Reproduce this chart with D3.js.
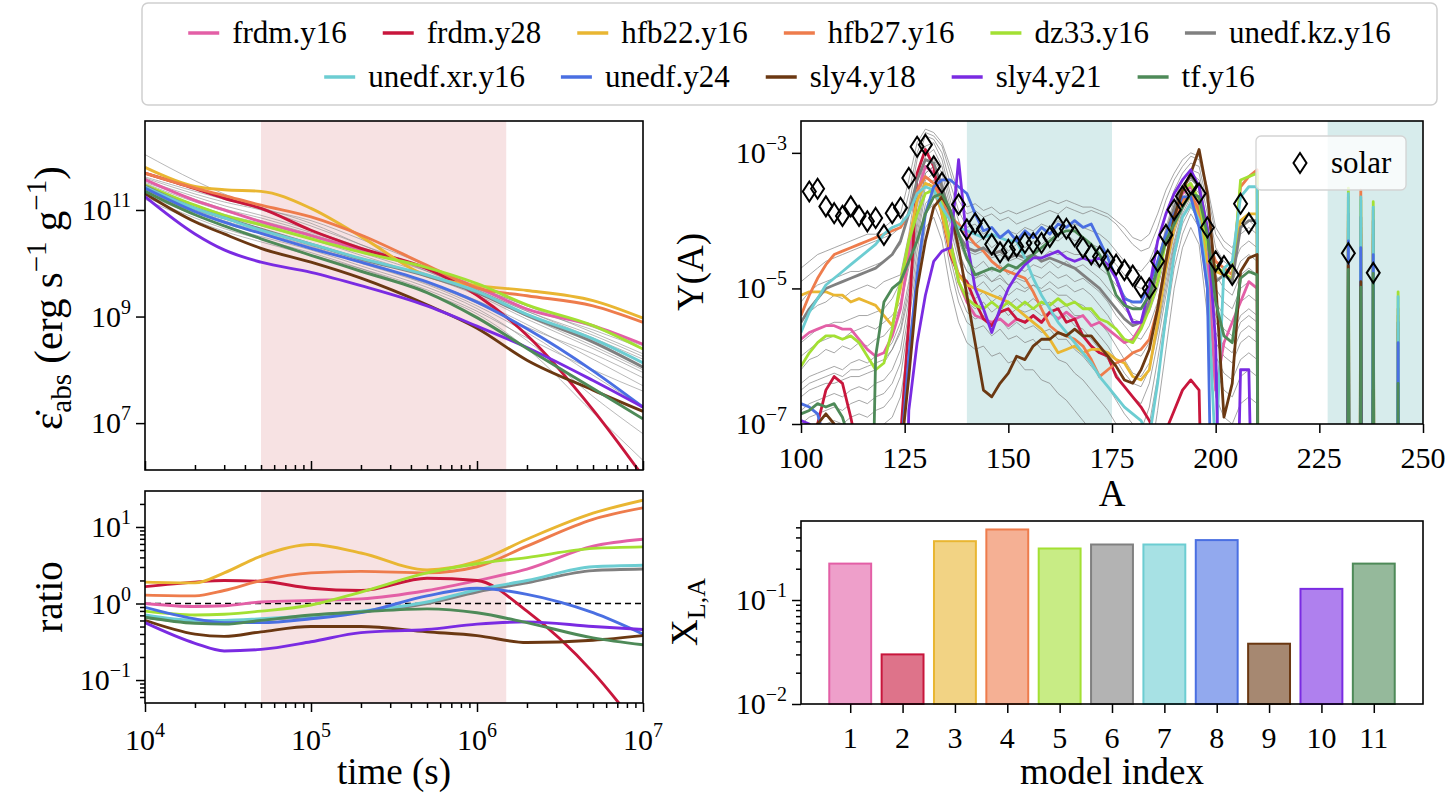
<!DOCTYPE html>
<html>
<head>
<meta charset="utf-8">
<script src="https://d3js.org/d3.v7.min.js"></script>
<style>
body { margin: 0; background: #fff; }
svg text { font-family: "Liberation Serif", "DejaVu Serif", serif; fill: #000; }
</style>
</head>
<body>
<div id="fig"></div>
<script>
// ---- data (exp arrays hold log10 of the plotted value) ----
var modelNames = ["frdm.y16", "frdm.y28", "hfb22.y16", "hfb27.y16", "dz33.y16", "unedf.kz.y16",
    "unedf.xr.y16", "unedf.y24", "sly4.y18", "sly4.y21", "tf.y16"];
var modelColors = ["#e35fa6", "#c8163c", "#e9b632", "#ee7c4c", "#a3e033", "#808080",
    "#6ccdd2", "#4a6fe2", "#6b3812", "#7a2be2", "#4e8a58"];

var timeGrid = [1e4, 2e4, 3e4, 5e4, 1e5, 2e5, 5e5, 1e6, 2e6, 5e6, 1e7];
var timeBand = [5e4, 1.5e6];

var heatingExp = [
    [11.57, 11.18, 11.00, 10.78, 10.52, 10.25, 9.90, 9.55, 9.14, 8.83, 8.48],
    [11.69, 11.40, 11.22, 11.03, 10.62, 10.28, 9.90, 9.40, 8.65, 7.25, 6.00],
    [11.80, 11.44, 11.38, 11.35, 11.03, 10.50, 9.76, 9.58, 9.49, 9.30, 8.97],
    [11.69, 11.41, 11.27, 11.09, 10.87, 10.53, 9.96, 9.54, 9.39, 9.20, 8.89],
    [11.47, 11.09, 10.90, 10.72, 10.46, 10.21, 9.92, 9.62, 9.22, 8.83, 8.39],
    [11.45, 11.03, 10.85, 10.64, 10.36, 10.08, 9.76, 9.45, 9.02, 8.52, 8.05],
    [11.43, 11.03, 10.85, 10.62, 10.36, 10.09, 9.78, 9.47, 9.04, 8.58, 8.13],
    [11.41, 10.97, 10.77, 10.56, 10.28, 10.02, 9.65, 9.27, 8.77, 7.98, 7.30],
    [11.31, 10.78, 10.55, 10.28, 10.02, 9.72, 9.22, 8.78, 8.18, 7.62, 7.22],
    [11.25, 10.55, 10.25, 10.02, 9.83, 9.58, 9.20, 8.82, 8.42, 7.80, 7.30],
    [11.35, 10.91, 10.70, 10.46, 10.15, 9.85, 9.45, 8.98, 8.40, 7.65, 7.08]
];
var heatingGrayExp = [
    [12.04, 11.55, 11.30, 11.05, 10.75, 10.35, 9.85, 9.45, 9.00, 8.45, 8.00],
    [11.60, 11.30, 11.15, 11.00, 10.70, 10.35, 9.90, 9.55, 9.20, 8.80, 8.45],
    [11.50, 11.15, 10.98, 10.80, 10.55, 10.25, 9.85, 9.50, 9.10, 8.60, 8.20],
    [11.45, 11.05, 10.88, 10.70, 10.45, 10.15, 9.75, 9.40, 8.95, 8.40, 7.95],
    [11.40, 11.00, 10.80, 10.60, 10.35, 10.05, 9.65, 9.30, 8.85, 8.20, 7.70],
    [11.35, 10.95, 10.75, 10.55, 10.30, 10.00, 9.60, 9.20, 8.70, 7.90, 7.30],
    [11.30, 10.90, 10.70, 10.50, 10.25, 9.95, 9.55, 9.15, 8.55, 7.50, 6.80],
    [11.20, 10.80, 10.60, 10.40, 10.15, 9.90, 9.50, 9.10, 8.60, 8.00, 7.60],
    [11.55, 11.25, 11.08, 10.90, 10.62, 10.30, 9.90, 9.55, 9.20, 8.70, 8.30],
    [11.25, 10.85, 10.65, 10.45, 10.20, 9.90, 9.45, 9.05, 8.40, 7.20, 6.30],
    [11.48, 11.10, 10.92, 10.75, 10.50, 10.20, 9.80, 9.45, 9.05, 8.55, 8.05],
    [11.62, 11.35, 11.20, 11.02, 10.80, 10.45, 9.95, 9.50, 9.10, 8.65, 8.25],
    [11.38, 10.98, 10.78, 10.58, 10.32, 10.02, 9.62, 9.25, 8.80, 8.30, 7.85],
    [11.52, 11.20, 11.02, 10.85, 10.58, 10.28, 9.88, 9.52, 9.15, 8.75, 8.40]
];
var ratioExp = [
    [0.00, -0.04, -0.03, 0.02, 0.04, 0.06, 0.17, 0.30, 0.45, 0.75, 0.84],
    [0.22, 0.28, 0.30, 0.29, 0.20, 0.17, 0.33, 0.30, -0.10, -0.90, -1.70],
    [0.28, 0.27, 0.40, 0.62, 0.77, 0.66, 0.44, 0.55, 0.84, 1.18, 1.35],
    [0.11, 0.10, 0.17, 0.30, 0.40, 0.42, 0.40, 0.48, 0.75, 1.10, 1.25],
    [-0.10, -0.15, -0.14, -0.10, -0.02, 0.15, 0.40, 0.52, 0.60, 0.72, 0.74],
    [-0.18, -0.24, -0.24, -0.21, -0.17, -0.11, 0.00, 0.15, 0.27, 0.43, 0.45],
    [-0.15, -0.22, -0.22, -0.20, -0.16, -0.10, 0.02, 0.18, 0.30, 0.48, 0.50],
    [-0.05, -0.20, -0.25, -0.25, -0.20, -0.12, 0.10, 0.20, 0.12, -0.12, -0.40],
    [-0.22, -0.40, -0.43, -0.37, -0.30, -0.30, -0.37, -0.42, -0.51, -0.48, -0.42],
    [-0.25, -0.52, -0.62, -0.60, -0.50, -0.38, -0.34, -0.27, -0.24, -0.30, -0.34],
    [-0.18, -0.26, -0.27, -0.22, -0.15, -0.11, -0.07, -0.12, -0.25, -0.45, -0.54]
];

// Y(A) at A = 100, 102, ..., 210 (-12 = far below the plot)
var massGrid = d3.range(100, 212, 2);
var massCutoff = 211;
var massBands = [[140, 175], [227, 250]];
var yieldExp = [
    [-5.75, -5.65, -5.6, -5.55, -5.55, -5.6, -5.6, -5.75, -5.9, -6.0, -5.95, -5.7, -5.3, -4.5, -3.6, -3.2, -3.3, -3.7, -4.3, -4.9,
     -5.2, -5.4, -5.45, -5.5, -5.45, -5.55, -5.45, -5.5, -5.4, -5.5, -5.35, -5.45, -5.35, -5.45, -5.4, -5.55, -5.5, -5.6, -5.7, -5.8,
     -5.75, -5.55, -5.2, -4.75, -4.3, -3.9, -3.6, -3.5, -3.75, -4.6, -6.5, -5.8, -5.5, -5.2, -4.9, -5.0],
    [-7.3, -7.6, -7.0, -6.5, -6.3, -6.4, -6.9, -7.5, -12, -12, -12, -12, -7.2, -5.5, -3.3, -2.95, -3.2, -3.9, -4.5, -4.8,
     -4.9, -5.2, -5.45, -5.55, -5.35, -5.3, -5.45, -5.5, -5.4, -5.5, -5.35, -5.3, -5.5, -5.45, -5.7, -5.85, -5.95, -6.0, -6.3, -6.45,
     -6.6, -6.75, -6.95, -7.2, -7.1, -6.8, -6.5, -6.35, -6.5, -12, -12, -12, -12, -12, -12, -12],
    [-5.1, -5.05, -5.05, -5.05, -5.1, -5.1, -5.2, -5.15, -5.2, -5.25, -5.4, -5.55, -5.0, -4.3, -3.7, -3.45, -3.5, -3.9, -4.45, -4.8,
     -4.95, -5.0, -5.05, -5.1, -5.15, -5.2, -5.3, -5.4, -5.5, -5.6, -5.75, -5.95, -5.9, -5.85, -5.95, -5.9, -5.9, -5.95, -6.05, -6.1,
     -6.3, -6.35, -6.2, -5.5, -4.7, -4.1, -3.75, -3.65, -3.95, -4.6, -4.75, -4.8, -4.85, -4.0, -3.9, -3.9],
    [-5.4, -5.1, -4.85, -4.65, -4.5, -4.45, -4.4, -4.35, -4.3, -4.25, -4.2, -4.15, -4.1, -3.9, -3.55, -3.35, -3.45, -3.7, -3.95, -4.05,
     -4.2, -4.35, -4.45, -4.6, -4.7, -4.75, -4.8, -4.85, -5.05, -5.3, -5.55, -5.65, -5.7, -5.75, -5.85, -6.05, -6.3, -6.2, -6.1, -6.05,
     -5.95, -5.9, -5.75, -5.3, -4.6, -4.0, -3.7, -3.6, -3.85, -4.3, -4.6, -4.7, -4.8, -3.5, -3.35, -3.25],
    [-6.15, -5.95, -5.8, -5.7, -5.7, -5.75, -5.7, -5.8, -6.0, -6.2, -6.1, -5.6, -4.9, -4.3, -3.9, -3.6, -3.55, -3.75, -4.3, -4.9,
     -5.15, -5.25, -5.3, -5.2, -5.3, -5.2, -5.3, -5.2, -5.3, -5.2, -5.25, -5.15, -5.25, -5.2, -5.3, -5.3, -5.45, -5.5, -5.6, -5.75,
     -5.8, -5.6, -5.3, -4.9, -4.3, -3.85, -3.55, -3.45, -3.7, -4.4, -4.7, -4.75, -4.9, -3.4, -3.35, -3.3],
    [-5.5, -5.3, -5.15, -5.0, -4.95, -4.9, -4.85, -4.8, -4.75, -4.7, -4.6, -4.5, -4.3, -3.9, -3.4, -3.1, -3.15, -3.5, -3.9, -4.2,
     -4.4, -4.45, -4.4, -4.5, -4.45, -4.55, -4.5, -4.55, -4.5, -4.6, -4.55, -4.6, -4.65, -4.7, -4.8, -4.9, -5.0, -5.15, -5.3, -5.45,
     -5.55, -5.5, -5.2, -4.7, -4.2, -3.8, -3.5, -3.35, -3.5, -4.2, -4.9, -4.8, -4.9, -4.1, -4.0, -4.0],
    [-5.65, -5.35, -5.15, -4.95, -4.85, -4.75, -4.65, -4.55, -4.45, -4.35, -4.2, -4.1, -4.05, -3.9, -3.6, -3.5, -3.55, -3.8, -4.0, -4.1,
     -4.15, -4.2, -4.25, -4.2, -4.25, -4.3, -4.3, -4.55, -4.85, -5.1, -5.3, -5.5, -5.65, -5.8, -5.95, -6.1, -6.3, -6.45, -6.6, -6.75,
     -6.85, -6.95, -7.2, -6.4, -5.4, -4.5, -3.95, -3.75, -4.0, -4.9, -7.5, -4.7, -4.6, -3.65, -3.5, -3.5],
    [-6.7, -6.75, -6.85, -7.3, -12, -12, -12, -12, -12, -12, -12, -12, -7.5, -6.0, -4.8, -3.9, -3.5, -3.4, -3.4, -3.5,
     -3.6, -3.9, -4.15, -4.1, -4.25, -4.15, -4.3, -4.15, -4.25, -4.1, -4.2, -4.05, -4.1, -4.0, -4.1, -4.05, -4.3, -4.55, -4.85, -5.15,
     -5.2, -5.2, -4.95, -4.6, -4.2, -3.9, -3.65, -3.65, -4.1, -5.0, -12, -12, -12, -12, -12, -12],
    [-7.3, -7.4, -7.0, -6.85, -7.0, -7.5, -12, -12, -12, -12, -12, -12, -7.5, -6.3, -5.0, -4.3, -3.8, -3.65, -3.85, -4.4,
     -5.1, -5.8, -6.5, -6.6, -6.4, -6.25, -6.0, -6.05, -5.85, -5.75, -5.75, -5.65, -5.7, -5.6, -5.7, -5.7, -5.85, -6.0, -6.15, -6.35,
     -6.4, -6.2, -5.9, -5.3, -4.6, -3.95, -3.55, -3.3, -2.95, -3.6, -4.9, -6.9, -6.4, -4.75, -4.55, -4.5],
    [-6.95, -7.0, -7.4, -12, -12, -12, -12, -12, -12, -12, -12, -12, -12, -6.8, -5.8, -5.1, -4.6, -4.45, -4.4, -3.1,
     -4.3, -5.0, -5.3, -5.65, -5.3, -5.0, -4.8, -4.65, -4.55, -4.55, -4.5, -4.45, -4.55, -4.6, -4.55, -4.6, -4.55, -4.65, -4.85, -5.2,
     -5.5, -5.5, -5.0, -4.3, -3.9, -3.6, -3.4, -3.25, -3.5, -4.1, -5.8, -12, -12, -6.2, -6.2, -12],
    [-6.85, -6.8, -6.7, -6.75, -6.7, -6.9, -7.3, -12, -12, -6.0, -5.2, -5.0, -4.9, -4.6, -4.3, -3.9, -3.65, -3.6, -3.85, -4.2,
     -4.55, -4.8, -4.75, -4.7, -4.75, -4.65, -4.7, -4.6, -4.5, -4.4, -4.3, -4.2, -4.15, -4.15, -4.25, -4.35, -4.5, -4.75, -5.1, -5.25,
     -5.3, -5.3, -5.1, -4.7, -4.3, -4.05, -3.8, -3.6, -3.65, -4.2, -5.2, -5.7, -5.8, -4.85, -4.75, -4.8]
];
var yieldGrayExp = [
    [-4.9, -4.8, -4.7, -4.6, -4.55, -4.5, -4.45, -4.4, -4.35, -4.3, -4.25, -4.2, -4.1, -3.6, -3.0, -2.7, -2.75, -2.9, -3.3, -3.7,
     -3.9, -3.85, -3.95, -3.9, -4.0, -3.95, -4.05, -4.0, -3.95, -3.9, -3.85, -3.9, -3.8, -3.85, -3.9, -3.85, -3.9, -3.95, -4.05, -4.2,
     -4.35, -4.45, -4.4, -4.1, -3.7, -3.4, -3.2, -3.05, -3.1, -3.6, -4.2, -4.4, -4.5, -4.2, -4.1, -4.2],
    [-5.5, -5.35, -5.25, -5.2, -5.1, -5.15, -5.05, -5.0, -4.95, -5.0, -4.9, -4.85, -4.8, -4.2, -3.4, -2.9, -2.85, -3.1, -3.6, -4.0,
     -4.3, -4.35, -4.25, -4.4, -4.3, -4.45, -4.35, -4.4, -4.3, -4.35, -4.25, -4.3, -4.2, -4.3, -4.25, -4.35, -4.4, -4.5, -4.65, -4.8,
     -4.95, -5.0, -4.9, -4.6, -4.1, -3.7, -3.4, -3.25, -3.3, -3.9, -4.6, -4.8, -4.9, -4.6, -4.5, -4.6],
    [-6.0, -5.9, -5.8, -5.75, -5.7, -5.75, -5.65, -5.6, -5.55, -5.6, -5.5, -5.4, -5.2, -4.6, -3.8, -3.2, -3.1, -3.3, -3.8, -4.3,
     -4.6, -4.7, -4.6, -4.75, -4.65, -4.8, -4.7, -4.75, -4.65, -4.7, -4.6, -4.7, -4.6, -4.7, -4.65, -4.75, -4.85, -5.0, -5.15, -5.3,
     -5.45, -5.5, -5.35, -5.0, -4.5, -4.0, -3.6, -3.4, -3.5, -4.2, -5.0, -5.2, -5.3, -5.0, -4.9, -5.0],
    [-6.4, -6.3, -6.25, -6.2, -6.15, -6.2, -6.1, -6.05, -6.1, -6.0, -5.95, -5.8, -5.5, -4.9, -4.1, -3.4, -3.3, -3.55, -4.1, -4.6,
     -4.9, -5.0, -4.9, -5.05, -4.95, -5.1, -5.0, -5.05, -4.95, -5.0, -4.9, -5.0, -4.95, -5.05, -5.0, -5.1, -5.25, -5.4, -5.6, -5.8,
     -5.95, -6.0, -5.8, -5.4, -4.8, -4.2, -3.8, -3.55, -3.7, -4.5, -5.4, -5.6, -5.7, -5.4, -5.3, -5.4],
    [-6.8, -6.7, -6.65, -6.6, -6.55, -6.6, -6.5, -6.45, -6.5, -6.4, -6.35, -6.2, -5.9, -5.2, -4.3, -3.6, -3.5, -3.8, -4.4, -4.9,
     -5.2, -5.3, -5.2, -5.35, -5.25, -5.4, -5.3, -5.35, -5.3, -5.4, -5.35, -5.45, -5.4, -5.55, -5.6, -5.75, -5.9, -6.05, -6.25, -6.45,
     -6.6, -6.7, -6.4, -5.8, -5.1, -4.4, -3.95, -3.7, -3.9, -4.8, -5.8, -6.0, -6.1, -5.8, -5.7, -5.8],
    [-7.2, -7.1, -7.05, -7.0, -6.95, -7.0, -6.9, -6.85, -6.9, -6.8, -6.75, -6.6, -6.3, -5.5, -4.6, -3.9, -3.75, -4.05, -4.7, -5.2,
     -5.5, -5.6, -5.55, -5.7, -5.6, -5.75, -5.7, -5.8, -5.75, -5.9, -5.9, -6.05, -6.1, -6.25, -6.35, -6.5, -6.65, -6.8, -7.0, -7.2,
     -7.3, -7.4, -7.0, -6.3, -5.5, -4.7, -4.2, -3.9, -4.1, -5.1, -6.2, -6.5, -6.6, -6.3, -6.2, -6.3],
    [-6.6, -6.5, -6.45, -6.4, -6.4, -6.35, -6.3, -6.3, -6.25, -6.2, -6.1, -5.9, -5.6, -5.0, -4.0, -3.3, -3.2, -3.45, -4.0, -4.5,
     -4.75, -4.85, -4.8, -4.9, -4.85, -4.95, -4.9, -5.0, -4.95, -5.05, -5.0, -5.1, -5.1, -5.2, -5.25, -5.35, -5.5, -5.65, -5.85, -6.05,
     -6.25, -6.3, -6.1, -5.6, -4.9, -4.3, -3.85, -3.6, -3.75, -4.6, -5.5, -5.7, -5.8, -5.5, -5.4, -5.5],
    [-5.8, -5.7, -5.6, -5.55, -5.5, -5.5, -5.45, -5.4, -5.4, -5.35, -5.3, -5.15, -4.9, -4.4, -3.6, -3.05, -2.95, -3.2, -3.7, -4.15,
     -4.45, -4.5, -4.45, -4.55, -4.5, -4.6, -4.55, -4.6, -4.5, -4.55, -4.45, -4.5, -4.45, -4.5, -4.5, -4.6, -4.7, -4.8, -4.95, -5.1,
     -5.25, -5.3, -5.15, -4.8, -4.3, -3.85, -3.5, -3.3, -3.4, -4.05, -4.8, -5.0, -5.1, -4.8, -4.7, -4.8],
    [-5.2, -5.05, -4.95, -4.9, -4.85, -4.8, -4.75, -4.75, -4.7, -4.65, -4.6, -4.5, -4.35, -3.8, -3.1, -2.75, -2.8, -3.0, -3.45, -3.85,
     -4.1, -4.05, -4.2, -4.1, -4.25, -4.15, -4.2, -4.1, -4.15, -4.05, -4.1, -4.0, -4.1, -4.05, -4.1, -4.15, -4.2, -4.3, -4.45, -4.6,
     -4.7, -4.75, -4.6, -4.3, -3.9, -3.55, -3.3, -3.15, -3.2, -3.75, -4.4, -4.6, -4.7, -4.4, -4.3, -4.4],
    [-7.6, -7.5, -7.4, -7.35, -7.3, -7.35, -7.25, -7.2, -7.2, -7.1, -7.0, -6.9, -6.6, -5.8, -4.9, -4.1, -3.95, -4.3, -5.0, -5.5,
     -5.8, -5.9, -5.85, -6.0, -5.95, -6.1, -6.05, -6.2, -6.2, -6.35, -6.4, -6.55, -6.65, -6.8, -6.95, -7.1, -7.3, -7.5, -7.7, -7.9,
     -8.0, -8.0, -7.6, -6.8, -5.9, -5.0, -4.4, -4.1, -4.35, -5.4, -6.6, -6.9, -7.0, -6.7, -6.6, -6.7],
    [-6.2, -6.05, -6.0, -5.9, -5.95, -5.85, -5.9, -5.8, -5.85, -5.75, -5.7, -5.55, -5.25, -4.7, -3.9, -3.3, -3.2, -3.4, -3.95, -4.45,
     -4.75, -4.85, -4.75, -4.9, -4.8, -4.95, -4.85, -4.9, -4.8, -4.85, -4.75, -4.85, -4.8, -4.9, -4.85, -4.95, -5.05, -5.2, -5.4, -5.55,
     -5.7, -5.75, -5.55, -5.2, -4.65, -4.1, -3.7, -3.45, -3.6, -4.35, -5.2, -5.4, -5.5, -5.2, -5.1, -5.2],
    [-7.0, -6.9, -6.85, -6.8, -6.75, -6.8, -6.7, -6.65, -6.7, -6.6, -6.55, -6.4, -6.1, -5.35, -4.45, -3.75, -3.6, -3.9, -4.55, -5.05,
     -5.35, -5.45, -5.4, -5.55, -5.45, -5.6, -5.5, -5.6, -5.55, -5.65, -5.6, -5.75, -5.75, -5.9, -6.0, -6.15, -6.3, -6.45, -6.65, -6.85,
     -7.0, -7.1, -6.75, -6.05, -5.3, -4.55, -4.05, -3.8, -4.0, -4.95, -6.0, -6.25, -6.35, -6.05, -5.95, -6.05],
    [-4.7, -4.6, -4.5, -4.45, -4.4, -4.35, -4.3, -4.25, -4.2, -4.2, -4.1, -4.0, -3.9, -3.4, -2.85, -2.65, -2.7, -2.85, -3.2, -3.6,
     -3.8, -3.75, -3.85, -3.8, -3.9, -3.85, -3.9, -3.85, -3.8, -3.75, -3.7, -3.75, -3.7, -3.75, -3.8, -3.8, -3.85, -3.9, -4.0, -4.1,
     -4.25, -4.3, -4.2, -3.9, -3.55, -3.3, -3.1, -3.0, -3.05, -3.5, -4.1, -4.3, -4.4, -4.1, -4.0, -4.1],
    [-6.5, -6.4, -6.35, -6.3, -6.25, -6.3, -6.2, -6.2, -6.15, -6.1, -6.05, -5.9, -5.65, -5.1, -4.2, -3.5, -3.4, -3.65, -4.25, -4.75,
     -5.05, -5.15, -5.05, -5.2, -5.1, -5.25, -5.15, -5.25, -5.15, -5.25, -5.2, -5.3, -5.25, -5.4, -5.4, -5.55, -5.7, -5.85, -6.05, -6.25,
     -6.4, -6.45, -6.2, -5.65, -5.0, -4.35, -3.9, -3.65, -3.8, -4.7, -5.65, -5.85, -5.95, -5.65, -5.55, -5.65]
];
var spikeMass = [232, 235, 238, 244];
var spikeExp = [
    [-4.1, -4.2, -4.3, -5.6],
    [-12, -12, -12, -12],
    [-4.0, -4.1, -4.2, -5.4],
    [-3.65, -3.55, -3.85, -5.3],
    [-3.52, -3.7, -3.72, -5.05],
    [-3.9, -3.95, -4.0, -5.5],
    [-3.6, -3.65, -3.8, -5.12],
    [-4.3, -4.4, -4.5, -5.8],
    [-4.66, -4.9, -6.5, -12],
    [-6.3, -6.6, -12, -12],
    [-4.72, -4.98, -4.78, -6.4]
];
var solarMass = [102, 104, 106, 108, 110, 112, 114, 116, 118, 120, 122, 124, 126, 128, 130, 132, 134,
    138, 140, 142, 144, 146, 148, 150, 152, 154, 156, 158, 160, 162, 164, 166, 168, 170, 172, 174, 176,
    178, 180, 182, 184, 186, 188, 190, 192, 194, 196, 198, 200, 202, 204, 206, 208, 232, 238];
var solarExp = [-3.57, -3.53, -3.79, -3.89, -3.93, -3.79, -3.93, -4.01, -3.96, -4.21, -3.89, -3.81, -3.37, -2.91, -2.88, -3.2, -3.44,
    -3.76, -4.13, -4.04, -4.12, -4.35, -4.47, -4.43, -4.38, -4.33, -4.33, -4.33, -4.24, -4.08, -4.12, -4.23, -4.4, -4.5, -4.53, -4.58, -4.65,
    -4.73, -4.81, -4.98, -5.0, -4.6, -4.21, -3.84, -3.64, -3.46, -3.6, -4.1, -4.6, -4.67, -4.8, -3.75, -4.04, -4.48, -4.77];

var modelIndex = [1, 2, 3, 4, 5, 6, 7, 8, 9, 10, 11];
var lanthanideFraction = [0.224, 0.030, 0.368, 0.477, 0.313, 0.342, 0.342, 0.377, 0.038, 0.128, 0.224];

// ---- figure ----
var svg = d3.select("#fig").append("svg")
    .attr("width", 1450)
    .attr("height", 799)
    .attr("font-family", "Liberation Serif, DejaVu Serif, serif");

var pow = function (e) { return Math.pow(10, e); };
var TICK = 30, SUP = 20, LABEL = 37;

function clipGroup(id, x0, x1, y0, y1) {
    svg.append("clipPath").attr("id", id)
        .append("rect").attr("x", x0).attr("y", y0).attr("width", x1 - x0).attr("height", y1 - y0);
    return svg.append("g").attr("clip-path", "url(#" + id + ")");
}

function frame(x0, x1, y0, y1) {
    svg.append("rect").attr("x", x0).attr("y", y0).attr("width", x1 - x0).attr("height", y1 - y0)
        .attr("fill", "none").attr("stroke", "#000").attr("stroke-width", 1.6);
}

function ticks(axis, tx, ty) {
    var g = svg.append("g").attr("transform", "translate(" + tx + "," + ty + ")").call(axis);
    g.select(".domain").remove();
    g.selectAll("line").attr("stroke", "#000").attr("stroke-width", 1.5);
    g.selectAll("text").remove();
    return g;
}

function powLabel(x, y, exp, anchor) {
    var t = svg.append("text").attr("x", x).attr("y", y)
        .attr("text-anchor", anchor).attr("font-size", TICK);
    t.append("tspan").text("10");
    t.append("tspan").attr("dy", -13).attr("font-size", SUP)
        .text(exp < 0 ? "\u2212" + (-exp) : exp);
}

function minorsBetween(lo, hi) {
    var out = [];
    for (var e = Math.floor(Math.log10(lo)); e <= Math.ceil(Math.log10(hi)); e++) {
        for (var m = 2; m <= 9; m++) {
            var v = m * Math.pow(10, e);
            if (v >= lo && v <= hi) out.push(v);
        }
    }
    return out;
}

// ---- left column: heating rate and ratio ----
var xL0 = 145, xL1 = 643;
var x = d3.scaleLog().domain([1e4, 1e7]).range([xL0, xL1]);
var yH = d3.scaleLog().domain([pow(6.12), pow(12.67)]).range([470, 121]);
var yR = d3.scaleLog().domain([pow(-1.30), pow(1.47)]).range([703, 491]);

var gH = clipGroup("clipH", xL0, xL1, 121, 470);
gH.append("rect").attr("x", x(timeBand[0])).attr("y", 121)
    .attr("width", x(timeBand[1]) - x(timeBand[0])).attr("height", 349)
    .attr("fill", "#f7e2e3");

var lineH = d3.line()
    .x(function (d, i) { return x(timeGrid[i]); })
    .y(function (d) { return yH(pow(d)); })
    .curve(d3.curveMonotoneX);

gH.selectAll(".gray").data(heatingGrayExp).enter().append("path")
    .attr("d", lineH).attr("fill", "none")
    .attr("stroke", "#8a8a8a").attr("stroke-width", 1).attr("stroke-opacity", 0.6);
gH.selectAll(".model").data(heatingExp).enter().append("path")
    .attr("d", lineH).attr("fill", "none")
    .attr("stroke", function (d, i) { return modelColors[i]; })
    .attr("stroke-width", 2.9);

var gR = clipGroup("clipR", xL0, xL1, 491, 703);
gR.append("rect").attr("x", x(timeBand[0])).attr("y", 491)
    .attr("width", x(timeBand[1]) - x(timeBand[0])).attr("height", 212)
    .attr("fill", "#f7e2e3");
gR.append("line").attr("x1", xL0).attr("x2", xL1).attr("y1", yR(1)).attr("y2", yR(1))
    .attr("stroke", "#000").attr("stroke-width", 1.6).attr("stroke-dasharray", "6,4");

var lineR = d3.line()
    .x(function (d, i) { return x(timeGrid[i]); })
    .y(function (d) { return yR(pow(d)); })
    .curve(d3.curveMonotoneX);
gR.selectAll(".model").data(ratioExp).enter().append("path")
    .attr("d", lineR).attr("fill", "none")
    .attr("stroke", function (d, i) { return modelColors[i]; })
    .attr("stroke-width", 2.9);

frame(xL0, xL1, 121, 470);
frame(xL0, xL1, 491, 703);

var tMajor = [1e4, 1e5, 1e6, 1e7];
var tMinor = minorsBetween(1e4, 1e7);
ticks(d3.axisTop(x).tickValues(tMajor).tickSize(9), 0, 470);
ticks(d3.axisTop(x).tickValues(tMinor).tickSize(5), 0, 470);
ticks(d3.axisBottom(x).tickValues(tMajor).tickSize(9), 0, 703);
ticks(d3.axisBottom(x).tickValues(tMinor).tickSize(5), 0, 703);
tMajor.forEach(function (t) { powLabel(x(t), 750, Math.round(Math.log10(t)), "middle"); });

var hMajor = [1e7, 1e9, 1e11];
ticks(d3.axisLeft(yH).tickValues(hMajor).tickSize(9), xL0, 0);
hMajor.forEach(function (v) { powLabel(xL0 - 14, yH(v) + 10, Math.round(Math.log10(v)), "end"); });

var rMajor = [0.1, 1, 10];
ticks(d3.axisLeft(yR).tickValues(rMajor).tickSize(9), xL0, 0);
ticks(d3.axisLeft(yR).tickValues(minorsBetween(yR.domain()[0], yR.domain()[1])).tickSize(5), xL0, 0);
rMajor.forEach(function (v) { powLabel(xL0 - 14, yR(v) + 10, Math.round(Math.log10(v)), "end"); });

svg.append("text").attr("x", (xL0 + xL1) / 2).attr("y", 784).attr("text-anchor", "middle")
    .attr("font-size", LABEL).text("time (s)");

var yl = svg.append("text").attr("transform", "translate(62,298) rotate(-90)")
    .attr("text-anchor", "middle").attr("font-size", 41);
yl.append("tspan").text("\u03b5\u0307");
yl.append("tspan").attr("dy", 9).attr("font-size", 29).text("abs");
yl.append("tspan").attr("dy", -9).text(" (erg s");
yl.append("tspan").attr("dy", -16).attr("font-size", 29).text("\u22121");
yl.append("tspan").attr("dy", 16).text(" g");
yl.append("tspan").attr("dy", -16).attr("font-size", 29).text("\u22121");
yl.append("tspan").attr("dy", 16).text(")");

svg.append("text").attr("transform", "translate(62,597) rotate(-90)")
    .attr("text-anchor", "middle").attr("font-size", 39).text("ratio");

// ---- right top: abundance pattern ----
var xR0 = 801, xR1 = 1423;
var xA = d3.scaleLinear().domain([100, 250]).range([xR0, xR1]);
var yY = d3.scaleLog().domain([1e-7, pow(-2.53)]).range([424, 121]);

var gY = clipGroup("clipY", xR0, xR1, 121, 424);
massBands.forEach(function (b) {
    gY.append("rect").attr("x", xA(b[0])).attr("y", 121)
        .attr("width", xA(b[1]) - xA(b[0])).attr("height", 303).attr("fill", "#d7ecec");
});

var lineY = d3.line()
    .x(function (d) { return xA(d[0]); })
    .y(function (d) { return yY(d[1]); });

function patternPoints(vals, spikes) {
    var pts = vals.map(function (v, i) { return [massGrid[i], pow(v)]; });
    pts.push([massCutoff, 1e-30]);
    if (spikes) {
        spikes.forEach(function (v, k) {
            pts.push([spikeMass[k] - 1, 1e-30]);
            pts.push([spikeMass[k], pow(v)]);
            pts.push([spikeMass[k] + 1, 1e-30]);
        });
    }
    return pts;
}

gY.selectAll(".gray").data(yieldGrayExp).enter().append("path")
    .attr("d", function (d) { return lineY(patternPoints(d)); })
    .attr("fill", "none").attr("stroke", "#808080")
    .attr("stroke-width", 1).attr("stroke-opacity", 0.7);

gY.selectAll(".model").data(yieldExp).enter().append("path")
    .attr("d", function (d, i) { return lineY(patternPoints(d, spikeExp[i])); })
    .attr("fill", "none")
    .attr("stroke", function (d, i) { return modelColors[i]; })
    .attr("stroke-width", 2.8).attr("stroke-linejoin", "round");

var diamond = "M0,-10L6.5,0L0,10L-6.5,0Z";
gY.selectAll(".solar").data(solarExp).enter().append("path")
    .attr("d", diamond)
    .attr("transform", function (d, i) { return "translate(" + xA(solarMass[i]) + "," + yY(pow(d)) + ")"; })
    .attr("fill", "none").attr("stroke", "#000").attr("stroke-width", 2);

svg.append("rect").attr("x", 1256).attr("y", 136).attr("width", 150).attr("height", 54).attr("rx", 5)
    .attr("fill", "#fff").attr("fill-opacity", 0.8).attr("stroke", "#d3d3d3").attr("stroke-width", 1.3);
svg.append("path").attr("d", diamond).attr("transform", "translate(1300,163)")
    .attr("fill", "none").attr("stroke", "#000").attr("stroke-width", 2);
svg.append("text").attr("x", 1331).attr("y", 173).attr("font-size", 31).text("solar");

frame(xR0, xR1, 121, 424);

var aTicks = [100, 125, 150, 175, 200, 225, 250];
ticks(d3.axisBottom(xA).tickValues(aTicks).tickSize(9), 0, 424);
aTicks.forEach(function (a) {
    svg.append("text").attr("x", xA(a)).attr("y", 468).attr("text-anchor", "middle")
        .attr("font-size", TICK).text(a);
});
var yMajor = [1e-7, 1e-5, 1e-3];
ticks(d3.axisLeft(yY).tickValues(yMajor).tickSize(9), xR0, 0);
yMajor.forEach(function (v) { powLabel(xR0 - 14, yY(v) + 10, Math.round(Math.log10(v)), "end"); });

svg.append("text").attr("x", (xR0 + xR1) / 2).attr("y", 506).attr("text-anchor", "middle")
    .attr("font-size", LABEL).text("A");
svg.append("text").attr("transform", "translate(703,272) rotate(-90)")
    .attr("text-anchor", "middle").attr("font-size", LABEL).text("Y(A)");

// ---- right bottom: lanthanide fraction bars ----
var xB = d3.scaleLinear().domain([0.06, 11.94]).range([xR0, xR1]);
var yB = d3.scaleLog().domain([0.01, pow(-0.24)]).range([704, 521]);
var barW = xB(0.8) - xB(0);

svg.selectAll(".bar").data(lanthanideFraction).enter().append("rect")
    .attr("x", function (d, i) { return xB(modelIndex[i]) - barW / 2; })
    .attr("y", function (d) { return yB(d); })
    .attr("width", barW)
    .attr("height", function (d) { return yB(0.01) - yB(d); })
    .attr("fill", function (d, i) { return modelColors[i]; })
    .attr("fill-opacity", 0.6)
    .attr("stroke", function (d, i) { return modelColors[i]; })
    .attr("stroke-width", 2);

frame(xR0, xR1, 521, 704);
ticks(d3.axisBottom(xB).tickValues(modelIndex).tickSize(9), 0, 704);
modelIndex.forEach(function (m) {
    svg.append("text").attr("x", xB(m)).attr("y", 748).attr("text-anchor", "middle")
        .attr("font-size", TICK).text(m);
});
var bMajor = [0.01, 0.1];
ticks(d3.axisLeft(yB).tickValues(bMajor).tickSize(9), xR0, 0);
ticks(d3.axisLeft(yB).tickValues(minorsBetween(0.01, yB.domain()[1])).tickSize(5), xR0, 0);
bMajor.forEach(function (v) { powLabel(xR0 - 14, yB(v) + 10, Math.round(Math.log10(v)), "end"); });

svg.append("text").attr("x", (xR0 + xR1) / 2).attr("y", 784).attr("text-anchor", "middle")
    .attr("font-size", LABEL).text("model index");
var xl = svg.append("text").attr("transform", "translate(697,612) rotate(-90)")
    .attr("text-anchor", "middle").attr("font-size", LABEL);
xl.append("tspan").text("X");
xl.append("tspan").attr("dy", 8).attr("font-size", 26).text("L,A");

// ---- legend ----
svg.append("rect").attr("x", 142).attr("y", 3).attr("width", 1295).attr("height", 102).attr("rx", 6)
    .attr("fill", "#fff").attr("stroke", "#cfcfcf").attr("stroke-width", 1.5);
var legendRows = [[0, 1, 2, 3, 4, 5], [6, 7, 8, 9, 10]];
var legendRowY = [33, 77];
legendRows.forEach(function (row, r) {
    var g = svg.append("g");
    var pos = 0;
    row.forEach(function (m) {
        g.append("line").attr("x1", pos).attr("x2", pos + 31).attr("y1", 0).attr("y2", 0)
            .attr("stroke", modelColors[m]).attr("stroke-width", 3.5);
        var t = g.append("text").attr("x", pos + 44).attr("y", 10).attr("font-size", 31).text(modelNames[m]);
        pos += 44 + t.node().getComputedTextLength() + 36;
    });
    var w = pos - 36;
    g.attr("transform", "translate(" + (789.5 - w / 2) + "," + legendRowY[r] + ")");
});
</script>
</body>
</html>
